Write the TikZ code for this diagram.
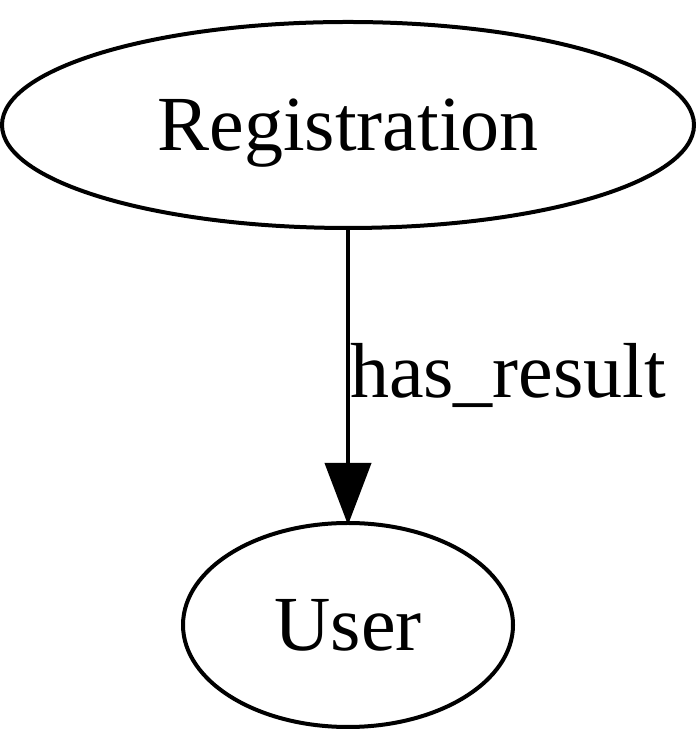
\documentclass[tikz,border=0pt]{standalone}
\usepackage{fontspec}
\setmainfont{Liberation Serif}
\usetikzlibrary{shapes.geometric,arrows.meta}
\tikzset{
  gnode/.style={draw, ellipse, line width=4pt, inner sep=0pt, text depth=0pt, font=\fontsize{78}{90}\selectfont},
  gedge/.style={line width=4pt, -{Triangle[length=62pt,width=46pt]}, shorten >=-4pt},
  glabel/.style={font=\fontsize{78}{90}\selectfont, inner sep=0pt}
}
\begin{document}
\begin{tikzpicture}[x=1pt,y=1pt]
\useasboundingbox (0,0) rectangle (700,751);
\node[gnode, minimum width=692pt, minimum height=206pt] (reg) at (348,626) {Registration};
\node[gnode, minimum width=330pt, minimum height=204pt] (user) at (348,126) {User};
\draw[gedge] (reg) -- node[glabel, right] {has\_result} (user);
\end{tikzpicture}
\end{document}
